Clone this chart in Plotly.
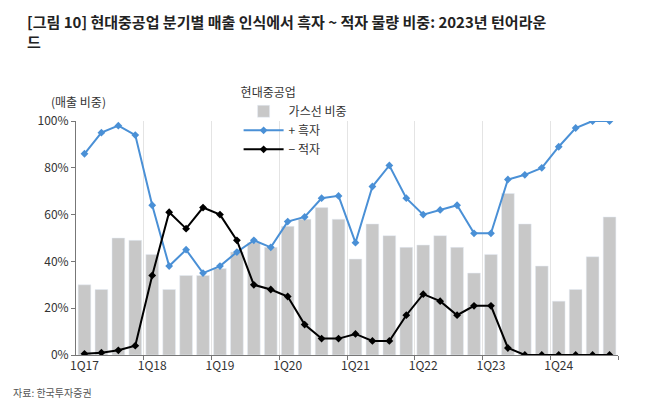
import plotly.graph_objects as go

quarters = [f"{q}Q{y}" for y in range(17, 25) for q in range(1, 5)]
tick_labels = ["1Q17", "1Q18", "1Q19", "1Q20", "1Q21", "1Q22", "1Q23", "1Q24"]
gas = [30,28,50,49,43,28,34,34,37,44,48,46,55,58,63,58,41,56,51,46,47,51,46,35,43,69,56,38,23,28,42,59]
profit = [86,95,98,94,64,38,45,35,38,44,49,46,57,59,67,68,48,72,81,67,60,62,64,52,52,75,77,80,89,97,100,100]
loss = [0.5,1,2,4,34,61,54,63,60,49,30,28,25,13,7,7,9,6,6,17,26,23,17,21,21,3,0,0,0,0,0,0]

x = list(range(len(quarters)))
font = "Noto Sans CJK KR"
fig = go.Figure()
fig.add_bar(x=x, y=gas, name="가스선 비중", marker_color="#c8c8c8", width=0.75)
fig.add_scatter(x=x, y=profit, name="+ 흑자", mode="lines+markers",
                line=dict(color="#4a90d6", width=2), marker=dict(symbol="diamond", size=6))
fig.add_scatter(x=x, y=loss, name="− 적자", mode="lines+markers",
                line=dict(color="black", width=2), marker=dict(symbol="diamond", size=6))
fig.add_scatter(x=[-0.5], y=[0], xaxis="x2", showlegend=False, mode="markers", marker=dict(opacity=0))

fig.update_layout(
    width=670, height=410, plot_bgcolor="white", paper_bgcolor="white",
    font=dict(family=font, size=12, color="#333"),
    margin=dict(l=68, r=60, t=113, b=63),
    bargap=0.2,
    xaxis=dict(range=[-0.5, 31.5], tickvals=[0,4,8,12,16,20,24,28], ticktext=tick_labels,
               showgrid=False, showline=True, linecolor="#777", ticks="", tickfont=dict(size=12)),
    xaxis2=dict(overlaying="x", range=[-0.5, 31.5], tickvals=[3.5,7.5,11.5,15.5,19.5,23.5,27.5,31.5],
                showgrid=True, gridcolor="#e4e4e4", showticklabels=False, ticks="outside",
                ticklen=4, tickcolor="#777", side="bottom"),
    yaxis=dict(range=[0, 100], dtick=20, ticksuffix="%", showgrid=False, showline=True,
               linecolor="#777", ticks="outside", ticklen=4, tickcolor="#777", zeroline=False),
    legend=dict(x=0.3, y=1.17, xanchor="left", yanchor="top", bgcolor="rgba(0,0,0,0)",
                title=dict(text="현대중공업", font=dict(size=12)), font=dict(size=12),
                tracegroupgap=0, itemwidth=40),
    annotations=[
        dict(text="<b>[그림 10] 현대중공업 분기별 매출 인식에서 흑자 ~ 적자 물량 비중: 2023년 턴어라운<br>드</b>",
             xref="paper", yref="paper", x=-0.095, y=1.48, xanchor="left", yanchor="top",
             showarrow=False, align="left", font=dict(size=15, color="#222")),
        dict(text="(매출 비중)", xref="paper", yref="paper", x=-0.05, y=1.04, showarrow=False,
             xanchor="left", yanchor="bottom", font=dict(size=12)),
        dict(text="자료: 한국투자증권", xref="paper", yref="paper", x=-0.12, y=-0.2, showarrow=False,
             xanchor="left", font=dict(size=10, color="#555")),
    ],
)
fig.write_html("out.html")
